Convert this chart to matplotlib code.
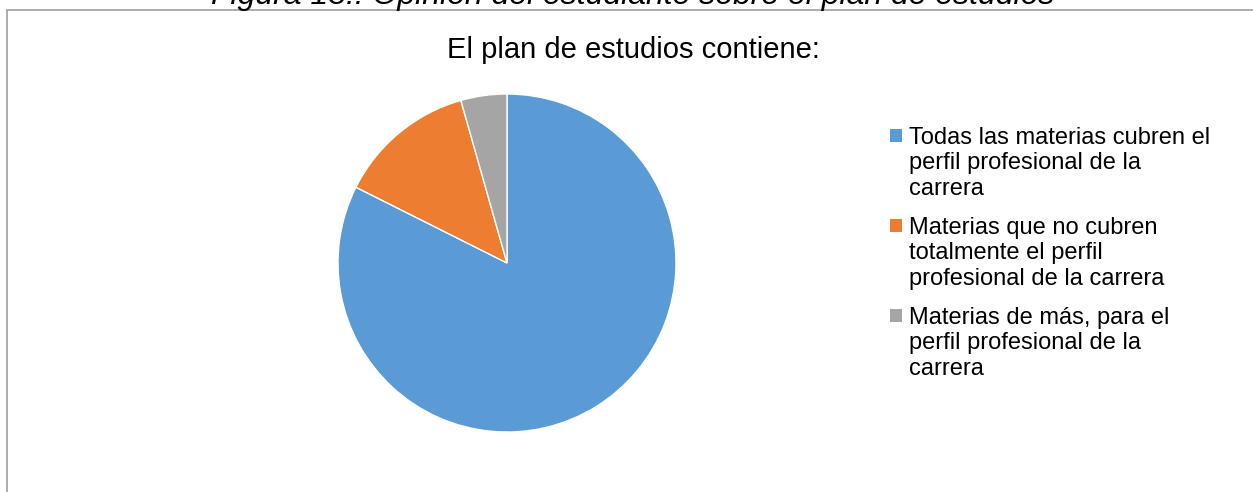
import matplotlib
matplotlib.use("Agg")
from matplotlib import pyplot as plt
from matplotlib.patches import Rectangle

plt.rcParams['font.family'] = ['Liberation Sans', 'DejaVu Sans']

caption = "Figura 13.: Opinión del estudiante sobre el plan de estudios"
title = "El plan de estudios contiene:"
labels = [
    "Todas las materias cubren el\nperfil profesional de la\ncarrera",
    "Materias que no cubren\ntotalmente el perfil\nprofesional de la carrera",
    "Materias de más, para el\nperfil profesional de la\ncarrera",
]
values = [82.4, 13.2, 4.4]
colors = ["#5B9BD5", "#ED7D31", "#A5A5A5"]

W, H = 1253, 492
fig = plt.figure(figsize=(W / 100, H / 100), dpi=100)

# chart border (runs off the right and bottom of the picture)
fig.patches.append(Rectangle((7 / W, -0.1), 1.2, 1.1 - 10 / H, transform=fig.transFigure,
                             fill=False, edgecolor="#A6A6A6", linewidth=1.3))

fig.text(633 / W, 1 - 4 / H, caption, ha="center", va="baseline", fontsize=23, style="italic")
fig.text(633 / W, 1 - 50 / H, title, ha="center", va="center", fontsize=21)

cx, cy, r = 507, 263, 169
ax = fig.add_axes([(cx - r) / W, (H - cy - r) / H, 2 * r / W, 2 * r / H])
ax.pie(values, colors=colors, startangle=90, counterclock=False,
       wedgeprops=dict(edgecolor="white", linewidth=1))
ax.set_xlim(-1, 1)
ax.set_ylim(-1, 1)
ax.set_aspect("auto")
ax.axis("off")

# legend: square marker level with the first line of each wrapped label
pitch = 26.5
for i, (lab, c) in enumerate(zip(labels, colors)):
    base = 142 + 90 * i
    nlines = lab.count("\n")
    fig.patches.append(Rectangle((890 / W, 1 - base / H), 12 / W, 13 / H,
                                 transform=fig.transFigure, facecolor=c, edgecolor="none"))
    # baseline alignment of a multi-line text is on its last line
    fig.text(909 / W, 1 - (base + nlines * pitch) / H, lab, ha="left", va="baseline",
             fontsize=17, linespacing=1.21)

plt.savefig("out.png", dpi=100)
